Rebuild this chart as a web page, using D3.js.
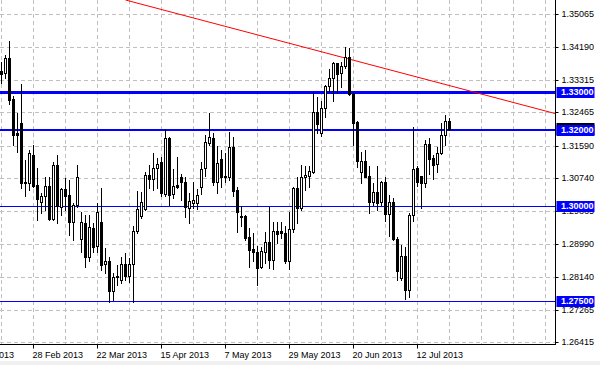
<!DOCTYPE html>
<html><head><meta charset="utf-8">
<script src="https://cdn.jsdelivr.net/npm/d3@7"></script>
<style>
body{margin:0;background:#fff;overflow:hidden;}
svg{display:block;}
text{font-family:"Liberation Sans",Arial,sans-serif;font-size:9px;}
</style>
</head><body>
<svg id="c" width="600" height="365"></svg>
<script>
// ---- data (EURUSD-like daily candles) ----
const opens = [1.3354,1.3351,1.3389,1.3282,1.3191,1.3218,1.3064,1.3060,1.3134,1.3055,
1.3011,1.3025,1.3053,1.2965,1.3108,1.2998,1.3044,1.3029,1.2959,1.3003,
1.2912,1.2956,1.2865,1.2941,1.2895,1.2959,1.2846,1.2855,1.2776,1.2812,
1.2805,1.2846,1.2816,1.2846,1.2934,1.2974,1.2993,1.3082,1.3070,1.3099,
1.3115,1.3032,1.3178,1.3032,1.3054,1.3075,1.3064,1.2994,1.3009,1.3009,
1.3049,1.3099,1.3167,1.3178,1.3064,1.3123,1.3079,1.3077,1.3154,1.3042,
1.2974,1.2974,1.2919,1.2887,1.2880,1.2840,1.2880,1.2906,1.2858,1.2934,
1.2934,1.2930,1.2854,1.2939,1.3046,1.2994,1.3075,1.3080,1.3090,1.3246,
1.3191,1.3257,1.3316,1.3338,1.3375,1.3349,1.3368,1.3393,1.3295,1.3222,
1.3090,1.3118,1.3079,1.3011,1.3038,1.3011,1.3064,1.2979,1.3010,1.2912,
1.2810,1.2868,1.2779,1.2976,1.3099,1.3079,1.3061,1.3162,1.3125,1.3110,
1.3140,1.3187,1.3224];
const highs = [1.3380,1.3397,1.3434,1.3289,1.3244,1.3321,1.3121,1.3147,1.3161,1.3099,
1.3033,1.3077,1.3077,1.3117,1.3134,1.3046,1.3073,1.3068,1.3007,1.3108,
1.2985,1.2976,1.2976,1.2954,1.3007,1.3046,1.2889,1.2867,1.2823,1.2845,
1.2867,1.2875,1.2862,1.2946,1.3039,1.3036,1.3090,1.3108,1.3139,1.3125,
1.3130,1.3203,1.3182,1.3096,1.3130,1.3084,1.3075,1.3033,1.3064,1.3044,
1.3117,1.3187,1.3244,1.3193,1.3159,1.3147,1.3139,1.3194,1.3182,1.3051,
1.3001,1.2976,1.2941,1.2928,1.2895,1.2893,1.2932,1.2998,1.2959,1.2959,
1.2959,1.2946,1.2985,1.3051,1.3077,1.3108,1.3105,1.3104,1.3301,1.3288,
1.3275,1.3318,1.3360,1.3380,1.3377,1.3380,1.3419,1.3417,1.3301,1.3224,
1.3143,1.3146,1.3104,1.3060,1.3104,1.3067,1.3077,1.3029,1.3020,1.2919,
1.2897,1.2893,1.2982,1.3209,1.3104,1.3080,1.3174,1.3178,1.3134,1.3156,
1.3219,1.3239,1.3231];
const lows = [1.3323,1.3336,1.3268,1.3161,1.3143,1.3046,1.3025,1.3042,1.3051,1.2963,
1.2981,1.2989,1.2963,1.2963,1.2954,1.2976,1.2989,1.2924,1.2911,1.2998,
1.2880,1.2840,1.2854,1.2880,1.2880,1.2832,1.2823,1.2748,1.2753,1.2792,
1.2796,1.2805,1.2801,1.2748,1.2928,1.2968,1.2990,1.3046,1.3042,1.3046,
1.3025,1.3026,1.3003,1.3020,1.3046,1.3016,1.2972,1.2954,1.2994,1.2991,
1.3032,1.3079,1.3161,1.3055,1.3033,1.3051,1.3064,1.3068,1.3025,1.2932,
1.2946,1.2911,1.2840,1.2854,1.2792,1.2836,1.2849,1.2836,1.2833,1.2902,
1.2915,1.2849,1.2833,1.2932,1.2954,1.2989,1.3042,1.3051,1.3086,1.3191,
1.3184,1.3233,1.3301,1.3277,1.3296,1.3314,1.3362,1.3292,1.3161,1.3102,
1.3060,1.3075,1.2982,1.3003,1.2989,1.3003,1.2961,1.2921,1.2911,1.2805,
1.2805,1.2754,1.2761,1.2961,1.3053,1.2994,1.3051,1.3084,1.3070,1.3090,
1.3137,1.3161,1.3200];
const closes = [1.3348,1.3389,1.3279,1.3187,1.3187,1.3060,1.3060,1.3139,1.3053,1.3018,
1.3025,1.3053,1.2965,1.3108,1.3000,1.3044,1.3025,1.2959,1.3003,1.3077,
1.2959,1.2865,1.2944,1.2893,1.2985,1.2845,1.2855,1.2775,1.2814,1.2816,
1.2846,1.2816,1.2846,1.2934,1.2991,1.3011,1.3082,1.3070,1.3099,1.3111,
1.3033,1.3178,1.3029,1.3053,1.3049,1.3064,1.2996,1.3014,1.3016,1.3028,
1.3096,1.3168,1.3181,1.3064,1.3112,1.3075,1.3075,1.3154,1.3040,1.2985,
1.2970,1.2915,1.2884,1.2880,1.2836,1.2882,1.2906,1.2858,1.2934,1.2926,
1.2928,1.2854,1.2939,1.3046,1.2994,1.3077,1.3082,1.3092,1.3246,1.3216,
1.3257,1.3316,1.3338,1.3375,1.3346,1.3368,1.3393,1.3295,1.3219,1.3119,
1.3118,1.3077,1.3011,1.3036,1.3007,1.3064,1.2979,1.3010,1.2912,1.2830,
1.2868,1.2779,1.2976,1.3096,1.3064,1.3061,1.3162,1.3123,1.3108,1.3140,
1.3187,1.3224,1.3202];

const dateTickBars = [-8, 8, 24, 40, 56, 72, 88, 104];
const dateTickLabels = ["6 Feb 2013","28 Feb 2013","22 Mar 2013","15 Apr 2013","7 May 2013","29 May 2013","20 Jun 2013","12 Jul 2013"];
const priceTicks = [1.35065,1.34190,1.33315,1.32465,1.31590,1.30740,1.29865,1.28990,1.28140,1.27265,1.26415];
const priceTickLabels = ["1.35065","1.34190","1.33315","1.32465","1.31590","1.30740","1.29865","1.28990","1.28140","1.27265","1.26415"];
const levels = [1.33, 1.32, 1.30, 1.275];
const levelLabels = ["1.33000","1.32000","1.30000","1.27500"];
const trendBars = [31, 138.5];
const trendPrices = [1.3542, 1.3243];
const bidPrice = 1.3202;

// ---- layout ----
const W = 600, H = 365;
const plotR = 555, plotB = 344;
const svg = d3.select("#c");
svg.append("rect").attr("width", W).attr("height", H).attr("fill", "#fff");

const x = d3.scaleLinear().domain([0, 100]).range([1.5, 401.5]);
const y = d3.scaleLinear().domain([1.26415, 1.35065]).range([342.2, 13.5]);
const px = v => Math.round(v) + 0.5;

svg.append("clipPath").attr("id", "plot")
  .append("rect").attr("x", 0).attr("y", 0).attr("width", plotR).attr("height", plotB);

const g = svg.append("g").attr("clip-path", "url(#plot)");

// grid
const gridBars = d3.range(0, 140, 8);
g.selectAll("line.vg").data(gridBars).join("line")
  .attr("x1", d => px(x(d) - 0.5)).attr("x2", d => px(x(d) - 0.5))
  .attr("y1", 0).attr("y2", plotB)
  .attr("stroke", "#c0c0c0").attr("stroke-dasharray", "4,3");
g.selectAll("line.hg").data(priceTicks).join("line")
  .attr("x1", 0).attr("x2", plotR)
  .attr("y1", d => px(y(d))).attr("y2", d => px(y(d)))
  .attr("stroke", "#c0c0c0").attr("stroke-dasharray", "4,3");

// bid line
g.append("line").attr("x1", 0).attr("x2", plotR)
  .attr("y1", px(y(bidPrice))).attr("y2", px(y(bidPrice)))
  .attr("stroke", "#c0c0c0");

// horizontal levels
const levelWidth = [3, 2, 1, 1];
g.selectAll("line.lv").data(levels).join("line")
  .attr("x1", 0).attr("x2", plotR)
  .attr("y1", (d, i) => levelWidth[i] % 2 ? px(y(d)) : Math.round(y(d)))
  .attr("y2", (d, i) => levelWidth[i] % 2 ? px(y(d)) : Math.round(y(d)))
  .attr("stroke", "#0000ff").attr("stroke-width", (d, i) => levelWidth[i]);

// trend line
g.append("line")
  .attr("x1", x(trendBars[0])).attr("y1", y(trendPrices[0]))
  .attr("x2", x(trendBars[1])).attr("y2", y(trendPrices[1]))
  .attr("stroke", "#ff0000").attr("stroke-width", 1);

// candles
const idx = d3.range(opens.length);
const cg = g.append("g");
cg.selectAll("line.w").data(idx).join("line")
  .attr("x1", i => x(i)).attr("x2", i => x(i))
  .attr("y1", i => Math.round(y(highs[i]))).attr("y2", i => Math.round(y(lows[i])) + 1)
  .attr("stroke", "#000").attr("stroke-width", 1);
cg.selectAll("rect.b").data(idx).join("rect")
  .each(function(i) {
    const up = closes[i] >= opens[i];
    const top = Math.round(y(Math.max(opens[i], closes[i])));
    const bot = Math.round(y(Math.min(opens[i], closes[i])));
    const r = d3.select(this);
    if (up) {
      r.attr("x", x(i) - 1).attr("y", top + 0.5).attr("width", 2).attr("height", Math.max(bot - top, 1))
       .attr("fill", "#fff").attr("stroke", "#000").attr("stroke-width", 1);
    } else {
      r.attr("x", x(i) - 1.5).attr("y", top).attr("width", 3).attr("height", Math.max(bot - top + 1, 1))
       .attr("fill", "#000");
    }
  });

// axes frame
svg.append("line").attr("x1", plotR + 0.5).attr("x2", plotR + 0.5).attr("y1", 0).attr("y2", plotB + 1)
  .attr("stroke", "#000");
svg.append("line").attr("x1", 0).attr("x2", plotR + 1).attr("y1", plotB + 0.5).attr("y2", plotB + 0.5)
  .attr("stroke", "#000");

// right axis
const yAxis = d3.axisRight(y).tickValues(priceTicks)
  .tickFormat((d, i) => priceTickLabels[i]).tickSize(3).tickSizeOuter(0).tickPadding(3);
const ya = svg.append("g").attr("transform", `translate(${plotR + 0.5},0)`).call(yAxis);
ya.select(".domain").remove();
ya.selectAll(".tick").attr("transform", d => `translate(0,${px(y(d))})`);
ya.selectAll("text").attr("font-family", "Liberation Sans, Arial, sans-serif").attr("font-size", 9).attr("fill", "#000");

// bottom axis
const xAxis = d3.axisBottom(x).tickValues(dateTickBars)
  .tickFormat((d, i) => dateTickLabels[i]).tickSize(4).tickSizeOuter(0).tickPadding(3);
const xa = svg.append("g").attr("transform", `translate(0,${plotB + 0.5})`).call(xAxis);
xa.select(".domain").remove();
xa.selectAll(".tick").attr("transform", d => `translate(${px(x(d) - 0.5)},0)`);
xa.selectAll("text").attr("text-anchor", "start").attr("x", -1)
  .attr("font-family", "Liberation Sans, Arial, sans-serif").attr("font-size", 9).attr("fill", "#000");

// bid label (black box) then level labels (blue boxes)
const boxW = 38, boxH = 12;
svg.append("rect").attr("x", plotR + 1.5).attr("y", Math.round(y(bidPrice)) - 6)
  .attr("width", boxW).attr("height", boxH).attr("fill", "#000");
const lg = svg.selectAll("g.lvl").data(levels).join("g")
  .attr("transform", d => `translate(${plotR + 1.5},${Math.round(y(d))})`);
lg.append("rect").attr("x", 0).attr("y", -5).attr("width", boxW).attr("height", boxH - 1).attr("fill", "#0000ff");
lg.append("text").attr("x", 4.5).attr("y", 0).attr("dy", "0.34em")
  .attr("fill", "#fff").attr("font-weight", "bold").text((d, i) => levelLabels[i]);

// window bottom strip
svg.append("rect").attr("x", 0).attr("y", 361).attr("width", W).attr("height", 4).attr("fill", "#f0f0f0");
</script>
</body></html>
